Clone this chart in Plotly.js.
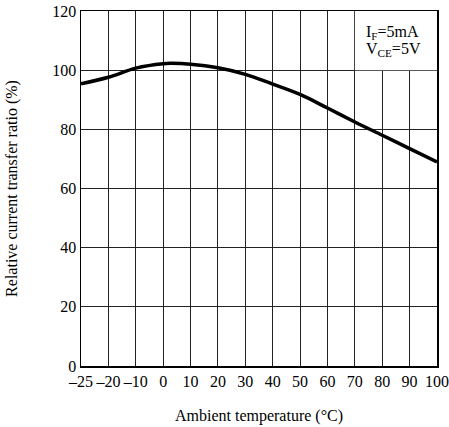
<!DOCTYPE html>
<html>
<head>
<meta charset="utf-8">
<script src="https://cdn.plot.ly/plotly-3.0.1.min.js"></script>
<style>html,body{margin:0;padding:0;background:#fff;}#chart{width:449px;height:427px;}</style>
</head>
<body>
<div id="chart"></div>
<script>
// Ambient temperature (°C) and relative current transfer ratio (%)
const temperature = [-25, -20, -10, 0, 3, 10, 20, 30, 40, 50, 60, 70, 80, 90, 100];
const ctrRatio    = [95.4, 97.6, 100.7, 102.2, 102.3, 102.0, 100.8, 98.6, 95.3, 91.8, 87.2, 82.5, 78.0, 73.5, 69.0];

// Axis tick labels (the first interval –25…–20 is drawn as wide as a 10 °C step)
const xTickValues = [-25, -20, -10, 0, 10, 20, 30, 40, 50, 60, 70, 80, 90, 100];
const xTickLabels = ['\u201325', '\u201320', '\u201310', '0', '10', '20', '30', '40', '50', '60', '70', '80', '90', '100'];
const yTickValues = [0, 20, 40, 60, 80, 100, 120];

// map real temperature to the chart's axis position
function axisPos(t) { return t < -20 ? -20 + (t + 20) * 2 : t; }

const font = {family: 'Liberation Serif, Times New Roman, serif', size: 16, color: '#000'};

const trace = {
  x: temperature.map(axisPos),
  y: ctrRatio,
  mode: 'lines',
  line: {color: '#000', width: 3.5, shape: 'spline', smoothing: 1},
  hoverinfo: 'skip'
};

const layout = {
  width: 449, height: 427,
  margin: {l: 81, r: 12, t: 11, b: 61},
  paper_bgcolor: '#fff', plot_bgcolor: '#fff',
  font: font,
  showlegend: false,
  xaxis: {
    range: [axisPos(-25), 100],
    tickmode: 'array',
    tickvals: xTickValues.map(axisPos),
    ticktext: xTickLabels,
    ticks: '',
    showgrid: true, gridcolor: '#222', gridwidth: 1,
    zeroline: false,
    showline: true, linecolor: '#000', linewidth: 1.5, mirror: true,
    tickfont: font,
    title: {text: 'Ambient temperature (\u00b0C)', font: font, standoff: 21},
    fixedrange: true
  },
  yaxis: {
    range: [0, 120],
    tickmode: 'array',
    tickvals: yTickValues,
    ticks: '',
    showgrid: true, gridcolor: '#222', gridwidth: 1,
    zeroline: false,
    showline: true, linecolor: '#000', linewidth: 1.5, mirror: true,
    tickfont: font,
    title: {text: 'Relative current transfer ratio (%)', font: font, standoff: 30},
    fixedrange: true
  },
  shapes: [{
    type: 'rect', xref: 'x', yref: 'y', x0: 70, x1: 100, y0: 100, y1: 120,
    fillcolor: '#fff', line: {width: 0}, layer: 'between'
  }],
  annotations: [
    {xref: 'x', yref: 'y', x: 73.3, y: 112.9, xanchor: 'left', yanchor: 'middle',
     text: 'I<sub>F</sub>=5mA', showarrow: false, font: font},
    {xref: 'x', yref: 'y', x: 73.3, y: 107.1, xanchor: 'left', yanchor: 'middle',
     text: 'V<sub>CE</sub>=5V', showarrow: false, font: font}
  ]
};

Plotly.newPlot('chart', [trace], layout, {displayModeBar: false, staticPlot: true});
</script>
</body>
</html>
